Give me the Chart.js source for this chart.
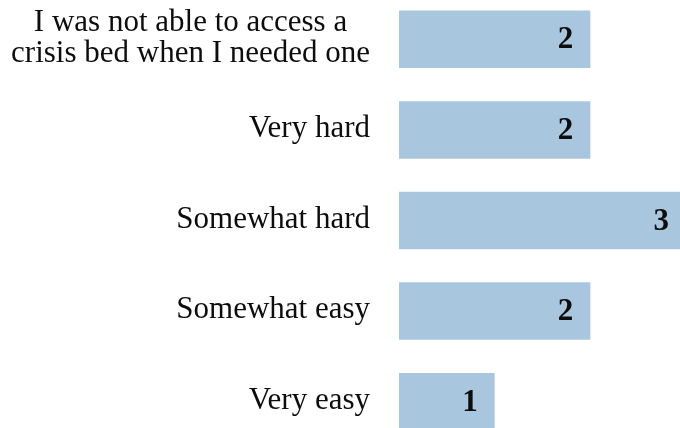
<!DOCTYPE html>
<html>
<head>
<meta charset="utf-8">
<script src="https://cdn.jsdelivr.net/npm/chart.js@4.4.1/dist/chart.umd.min.js"></script>
<style>
  html, body { margin: 0; padding: 0; background: #ffffff; }
  #frame { position: relative; width: 680px; height: 428px; overflow: hidden; }
  #chart { position: absolute; left: 0; top: -6px; }
</style>
</head>
<body>
<div id="frame"><canvas id="chart" width="690" height="453"></canvas></div>
<script>
// Responses, top to bottom
const categories = [
  ["I was not able to access a", "crisis bed when I needed one"],
  "Very hard",
  "Somewhat hard",
  "Somewhat easy",
  "Very easy"
];
const counts = [2, 2, 3, 2, 1];
const xTicks = [0, 1, 2, 3];

const BAR_COLOR = "#a9c6df";
const TEXT_COLOR = "#0d0d0d";
const FONT_FAMILY = "'Liberation Serif', 'Times New Roman', serif";
const FONT_SIZE = 31;

// Category labels: each block right-aligned to the axis, lines centred within the block
const categoryLabels = {
  id: "categoryLabels",
  afterDraw(chart) {
    const ctx = chart.ctx;
    const yScale = chart.scales.y;
    const right = chart.chartArea.left - 29;
    const lineH = FONT_SIZE;
    ctx.save();
    ctx.font = `${FONT_SIZE}px ${FONT_FAMILY}`;
    ctx.fillStyle = TEXT_COLOR;
    ctx.textAlign = "center";
    ctx.textBaseline = "middle";
    yScale.ticks.forEach((tick, i) => {
      const label = chart.data.labels[tick.value];
      const lines = Array.isArray(label) ? label : [label];
      const blockW = Math.max(...lines.map(l => ctx.measureText(l).width));
      const cx = right - blockW / 2;
      const cy = yScale.getPixelForTick(i) - 1;
      const y0 = cy - (lines.length - 1) * lineH / 2;
      lines.forEach((l, j) => ctx.fillText(l, cx, y0 + j * lineH));
    });
    ctx.restore();
  }
};

// Value labels inside the end of each bar
const valueLabels = {
  id: "valueLabels",
  afterDatasetsDraw(chart) {
    const ctx = chart.ctx;
    const meta = chart.getDatasetMeta(0);
    const data = chart.data.datasets[0].data;
    ctx.save();
    ctx.font = `bold ${FONT_SIZE}px ${FONT_FAMILY}`;
    ctx.fillStyle = TEXT_COLOR;
    ctx.textAlign = "right";
    ctx.textBaseline = "middle";
    meta.data.forEach((bar, i) => {
      ctx.fillText(String(data[i]), bar.x - 17, bar.y + 1);
    });
    ctx.restore();
  }
};

new Chart(document.getElementById("chart"), {
  type: "bar",
  data: {
    labels: categories,
    datasets: [{
      data: counts,
      backgroundColor: BAR_COLOR,
      borderWidth: 0,
      barPercentage: 0.635,
      categoryPercentage: 1
    }]
  },
  options: {
    indexAxis: "y",
    responsive: false,
    animation: false,
    devicePixelRatio: 1,
    layout: { padding: { left: 399, right: 4, top: 0, bottom: 0 } },
    plugins: {
      legend: { display: false },
      tooltip: { enabled: false }
    },
    scales: {
      x: {
        min: xTicks[0],
        max: xTicks[xTicks.length - 1],
        display: false
      },
      y: {
        display: false,
        grid: { display: false },
        border: { display: false }
      }
    }
  },
  plugins: [categoryLabels, valueLabels]
});
</script>
</body>
</html>
